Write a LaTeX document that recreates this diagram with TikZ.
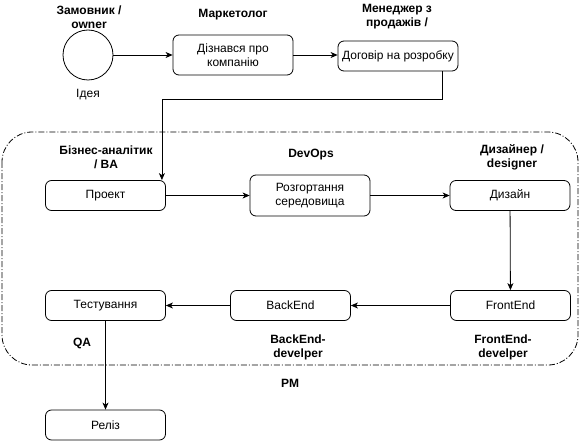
\documentclass[tikz,border=0pt]{standalone}
\usepackage{fontspec}
\setmainfont{Liberation Sans}
\usetikzlibrary{positioning, arrows.meta}

\begin{document}
\begin{tikzpicture}[x=1pt, y=-1pt,
    blok/.style={draw, rounded corners=6pt, minimum width=120pt, minimum height=30pt, align=center, line width=0.8pt, font=\fontsize{12}{14}\selectfont},
    rol/.style={align=center, font=\bfseries\fontsize{12}{14}\selectfont},
    strilka/.style={line width=0.8pt, -{Stealth[length=7pt, width=6pt, inset=2pt]}}]
    \useasboundingbox (0,0) rectangle (581,441);

    % Рамка команди
    \draw[line width=0.8pt, dash pattern=on 6pt off 2pt on 1pt off 2pt, rounded corners=30pt] (2,132) rectangle (578,365);

    % Верхній ряд
    \node[draw, circle, minimum size=50pt, inner sep=0pt, line width=0.8pt] (ideya) at (88,55) {};
    \node[font=\fontsize{12}{14}\selectfont] (ideyatxt) at (88,95) {Ідея};
    \node[blok, minimum height=40pt] (kompaniya) at (233,55) {Дізнався про\\компанію};
    \node[blok] (dogovir) at (398,56) {Договір на розробку};

    % Ряд у команді
    \node[blok] (proekt) at (105.5,195.5) {Проект};
    \node[blok, minimum height=41pt] (rozgort) at (310,195.5) {Розгортання\\середовища};
    \node[blok] (dyzain) at (510,195.5) {Дизайн};
    \node[blok] (testuv) at (105.5,305.5) {Тестування};
    \node[blok] (backend) at (290.5,305.5) {BackEnd};
    \node[blok] (frontend) at (510.5,305.5) {FrontEnd};
    \node[blok] (reliz) at (105.5,425) {Реліз};

    % Ролі
    \node[rol] (zamovnyk) at (89,17) {Замовник /\\owner};
    \node[rol] (marketolog) at (233,15) {Маркетолог};
    \node[rol] (menedzher) at (397,17) {Менеджер з\\продажів /};
    \node[rol] (analityk) at (106,157) {Бізнес-аналітик\\/ BA};
    \node[rol] (devops) at (311,155) {DevOps};
    \node[rol] (dyzainer) at (512,157) {Дизайнер /\\designer};
    \node[rol] (qa) at (82,343) {QA};
    \node[rol] (backdev) at (298,347) {BackEnd-\\develper};
    \node[rol] (frontdev) at (503,347) {FrontEnd-\\develper};
    \node[rol] (pm) at (290,383) {PM};

    % Стрілки
    \draw[strilka] (ideya) -- (kompaniya);
    \draw[strilka] (kompaniya) -- (kompaniya -| dogovir.west);
    \draw[strilka] ([xshift=-16pt]dogovir.south east) -- ++(0,28) -| ([xshift=-4pt]proekt.north east);
    \draw[strilka] (proekt) -- (proekt -| rozgort.west);
    \draw[strilka] (rozgort) -- (rozgort -| dyzain.west);
    \draw[strilka] (dyzain) -- (frontend);
    \draw[strilka] (frontend) -- (backend);
    \draw[strilka] (backend) -- (testuv);
    \draw[strilka] (testuv) -- (reliz);
\end{tikzpicture}
\end{document}
